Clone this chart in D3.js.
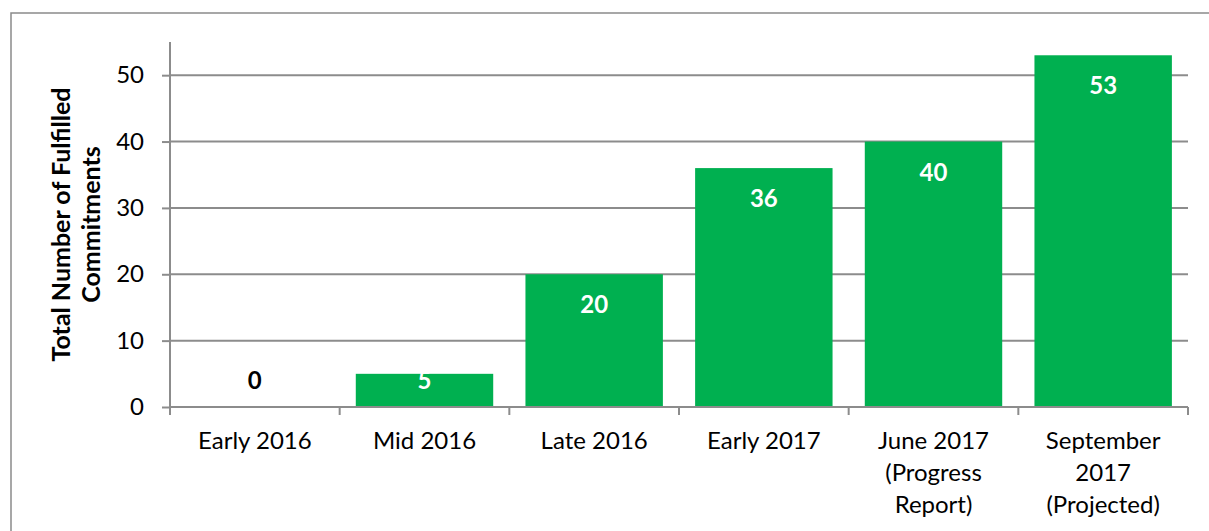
<!DOCTYPE html>
<html>
<head>
<meta charset="utf-8">
<script src="https://cdn.jsdelivr.net/npm/d3@7"></script>
<style>
  body { margin: 0; background: #fff; }
  svg text { font-family: Lato, "Open Sans", sans-serif; }
</style>
</head>
<body>
<svg id="chart" width="1209" height="531"></svg>
<script>
// chart data
const categories = [
  ["Early 2016"],
  ["Mid 2016"],
  ["Late 2016"],
  ["Early 2017"],
  ["June 2017", "(Progress", "Report)"],
  ["September", "2017", "(Projected)"]
];
const values = [0, 5, 20, 36, 40, 53];
const yTicks = [0, 10, 20, 30, 40, 50];
const yTitle = ["Total Number of Fulfilled", "Commitments"];

const svg = d3.select("#chart");
const margin = { top: 42, right: 21, bottom: 124, left: 170 };
const width = 1209, height = 531;
const plotW = width - margin.left - margin.right;
const plotH = height - margin.top - margin.bottom;

// outer frame
svg.append("rect")
  .attr("x", 11).attr("y", 13)
  .attr("width", 1300).attr("height", 600)
  .attr("fill", "none")
  .attr("stroke", "#8a8a8a")
  .attr("stroke-width", 1.5);

const g = svg.append("g")
  .attr("transform", `translate(${margin.left},${margin.top})`);

const x = d3.scaleBand()
  .domain(d3.range(categories.length))
  .range([0, plotW])
  .paddingInner(0.19)
  .paddingOuter(0.095);

const y = d3.scaleLinear()
  .domain([0, 55])
  .range([plotH, 0]);

// gridlines
g.append("g")
  .selectAll("line")
  .data(yTicks.filter(d => d > 0))
  .join("line")
  .attr("x1", 0).attr("x2", plotW)
  .attr("y1", d => y(d)).attr("y2", d => y(d))
  .attr("stroke", "#8c8c8c")
  .attr("stroke-width", 2);

// bars
g.selectAll("rect.bar")
  .data(values)
  .join("rect")
  .attr("class", "bar")
  .attr("x", (d, i) => x(i))
  .attr("y", d => y(d))
  .attr("width", x.bandwidth())
  .attr("height", d => plotH - y(d))
  .attr("fill", "#00b050");

// y axis
const yAxis = g.append("g")
  .call(d3.axisLeft(y).tickValues(yTicks).tickSize(8).tickPadding(18));
yAxis.select(".domain").attr("stroke", "#8c8c8c").attr("stroke-width", 2)
  .attr("d", `M0,0V${plotH}`);
yAxis.selectAll(".tick line").attr("stroke", "#8c8c8c").attr("stroke-width", 2);
yAxis.selectAll(".tick text")
  .attr("font-size", 24)
  .attr("fill", "#000")
  .style("font-family", "Lato, sans-serif");

// x axis: baseline and boundary ticks
const xg = g.append("g").attr("transform", `translate(0,${plotH})`);
xg.append("line")
  .attr("x1", 0).attr("x2", plotW)
  .attr("stroke", "#8c8c8c").attr("stroke-width", 2);
const step = x.step();
const bounds = d3.range(categories.length + 1).map(i => i === categories.length ? plotW : x(i) - x.paddingInner() * step / 2);
xg.selectAll("line.tk")
  .data(bounds)
  .join("line")
  .attr("class", "tk")
  .attr("x1", d => d).attr("x2", d => d)
  .attr("y1", 0).attr("y2", 8)
  .attr("stroke", "#8c8c8c").attr("stroke-width", 2);

// category labels
const catLabels = xg.selectAll("text.cat")
  .data(categories)
  .join("text")
  .attr("class", "cat")
  .attr("text-anchor", "middle")
  .attr("font-size", 24)
  .attr("fill", "#000")
  .attr("transform", (d, i) => `translate(${x(i) + x.bandwidth() / 2},42)`);
catLabels.selectAll("tspan")
  .data(d => d)
  .join("tspan")
  .attr("x", 0)
  .attr("y", (d, j) => j * 32)
  .text(d => d);

// value labels
g.selectAll("text.val")
  .data(values)
  .join("text")
  .attr("class", "val")
  .attr("text-anchor", "middle")
  .attr("font-size", 24)
  .attr("font-weight", "bold")
  .attr("fill", d => d === 0 ? "#000" : "#fff")
  .attr("x", (d, i) => x(i) + x.bandwidth() / 2)
  .attr("y", d => Math.min(y(d) + 39, plotH - 18))
  .text(d => d);

// y axis title
svg.append("text")
  .attr("transform", `translate(77,${margin.top + plotH / 2}) rotate(-90)`)
  .attr("text-anchor", "middle")
  .attr("font-size", 25)
  .attr("font-weight", "bold")
  .attr("fill", "#000")
  .selectAll("tspan")
  .data(yTitle)
  .join("tspan")
  .attr("x", 0)
  .attr("y", (d, j) => (j - 0.5) * 30 + 8)
  .text(d => d);
</script>
</body>
</html>
